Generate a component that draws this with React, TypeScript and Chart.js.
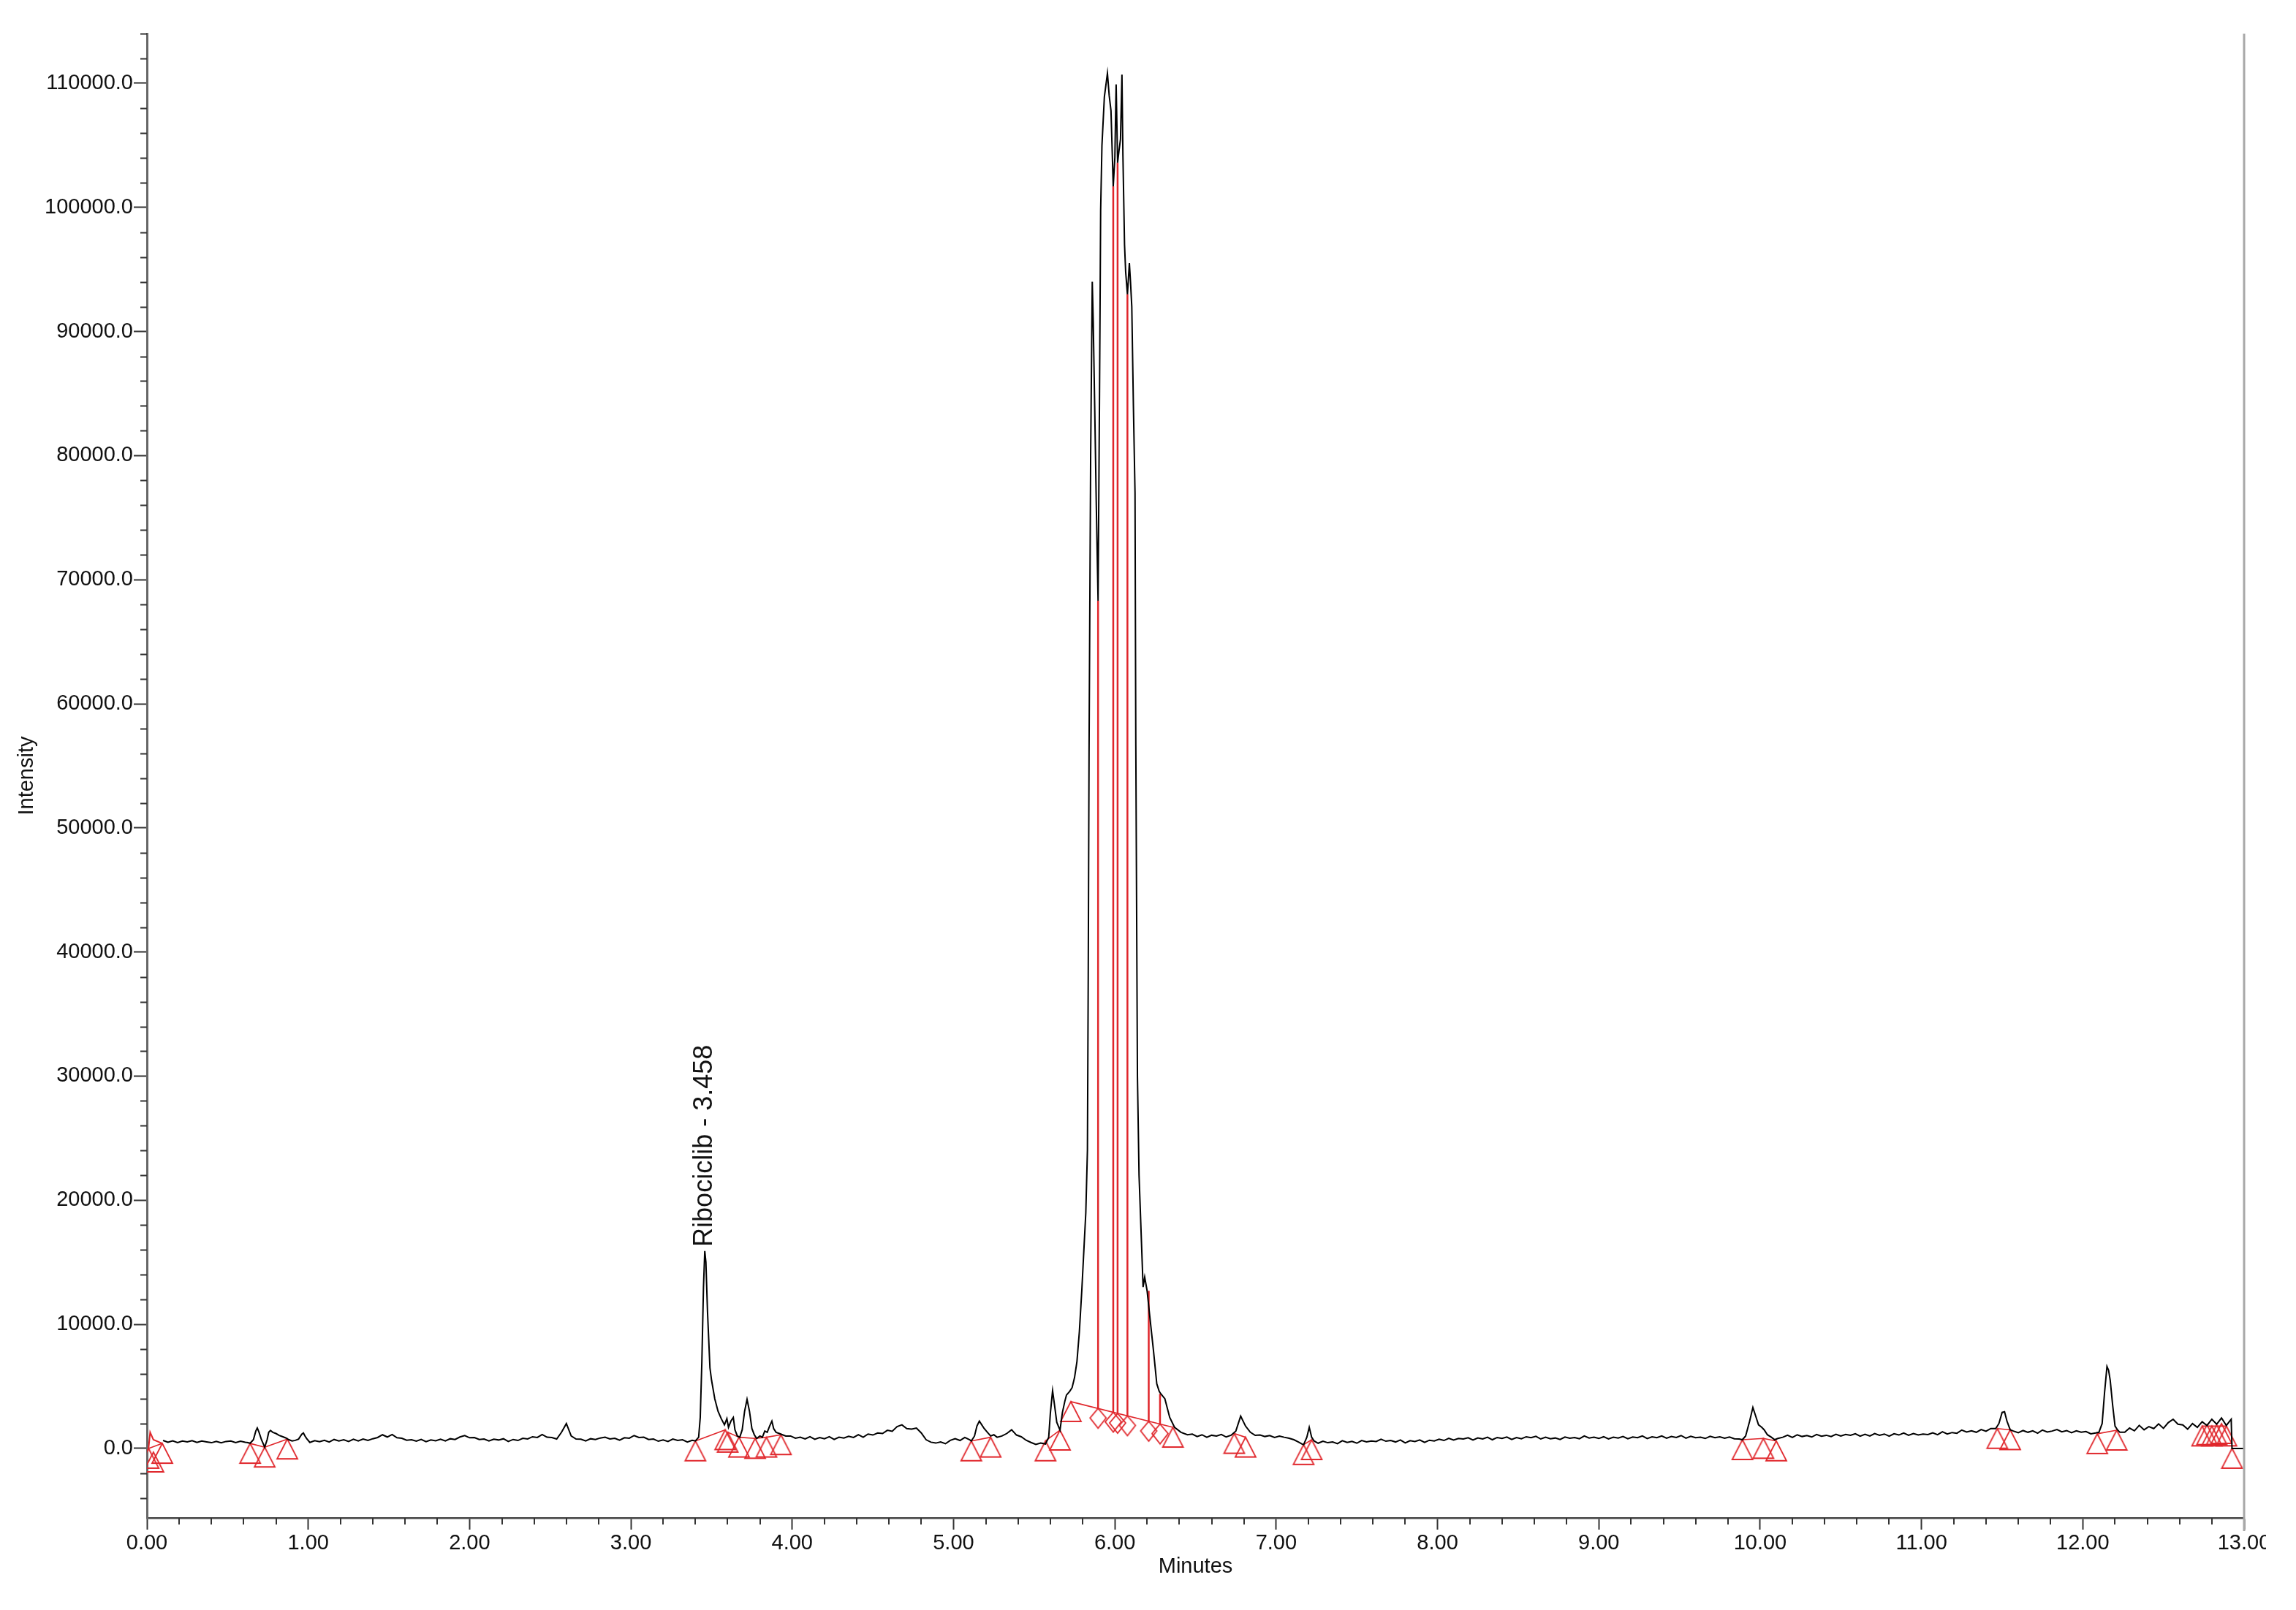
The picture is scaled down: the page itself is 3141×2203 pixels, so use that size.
import React, { useEffect, useRef } from "react";
import { Chart, registerables } from "chart.js";
Chart.register(...registerables);

// ---------- axis settings ----------
const X_MIN = 0;
const X_MAX = 13;
const Y_MIN = -5600;
const Y_MAX = 114000;
const X_TICKS = [0, 1, 2, 3, 4, 5, 6, 7, 8, 9, 10, 11, 12, 13];
const Y_TICKS = [0, 10000, 20000, 30000, 40000, 50000, 60000, 70000, 80000, 90000, 100000, 110000];
const X_MINOR = 0.2;
const Y_MINOR = 2000;

// ---------- chromatogram trace ----------
// baseline runs sampled every RUN_STEP minutes starting at the given time
const RUN_STEP = 0.03;
const runA_start = 0.1;
const runA = [640, 500, 610, 470, 590, 520, 620, 480, 600, 530, 460, 570, 450, 560, 600, 470, 580, 500];
const runB_start = 1.01;
const runB = [480, 620, 540, 660, 520, 720, 600, 700, 560, 740, 600, 760, 640, 780, 880, 1100, 920, 1120, 860, 820, 660, 700, 580, 720, 540, 680, 620, 740, 600, 780, 720, 920, 1040, 860];
const runC_start = 2.03;
const runC = [880, 720, 760, 600, 740, 680, 780, 560, 720, 640, 820, 760, 940, 880, 1120, 900, 880, 760, 1300, 2000, 1000, 760, 740, 600, 780, 720, 840, 900, 760, 820, 660, 860, 820, 1040, 880, 900, 720, 760, 580, 680, 560, 760, 640, 700, 520, 660];
const runD_start = 3.99;
const runD = [1000, 820, 900, 760, 940, 740, 880, 780, 940, 720, 900, 840, 980, 880, 1100, 900, 1160, 1080, 1240, 1200, 1460, 1380, 1760, 1900, 1600, 1560, 1640, 1250, 700, 500, 430, 520, 380, 650, 780, 640, 880];
const runE_start = 5.3;
const runE = [1000, 1200, 1500, 1080, 940, 660, 480, 320, 440, 360];
const runF_start = 6.48;
const runF = [1150, 960, 1100, 900, 1060, 1000, 1120, 920, 1060, 1400, 2600, 1800, 1300, 1050, 1080, 960, 1040, 880, 1000, 900, 820, 700, 500];
const runG_start = 7.26;
const runG = [420, 580, 460, 520, 380, 620, 480, 560, 420, 640, 520, 600, 560, 740, 580, 640, 520, 680, 440, 620, 560, 680, 480, 660, 600, 740, 640, 820, 680, 800, 760, 860, 680, 840, 760, 900, 700, 880, 800, 920, 720, 880, 780, 940, 860, 980, 760, 900, 780, 840, 720, 920, 820, 880, 780, 1000, 840, 900, 800, 940, 760, 900, 840, 960, 780, 920, 860, 1000, 800, 940, 860, 1000, 820, 960, 880, 1040, 820, 980, 860, 900, 800, 980, 860, 940, 820, 920, 780, 760];
const runH_start = 10.14;
const runH = [900, 1060, 880, 1100, 960, 1040, 920, 1120, 980, 1060, 960, 1140, 1000, 1120, 1060, 1180, 980, 1140, 1000, 1200, 1060, 1160, 980, 1180, 1080, 1240, 1060, 1200, 1080, 1160, 1120, 1260, 1100, 1340, 1160, 1280, 1220, 1480, 1320, 1420, 1300, 1520, 1380, 1600];
const runI_start = 11.6;
const runI = [1260, 1440, 1300, 1420, 1220, 1480, 1320, 1400, 1520, 1340, 1440, 1260, 1420, 1300, 1360, 1180, 1240];
const runJ_start = 12.26;
const runJ = [1300, 1640, 1420, 1860, 1500, 1760, 1600, 1980, 1620, 2080, 2350, 1950, 1900, 1550, 2000, 1700, 2150, 1850, 2350, 1950, 2450, 1850, 2350];

// peaks read point by point: [minutes, intensity]
const peak068 = [[0.62, 480], [0.64, 420], [0.66, 700], [0.675, 1400], [0.684, 1650], [0.695, 1300], [0.71, 700], [0.73, 100], [0.745, 700], [0.755, 1300], [0.766, 1450], [0.78, 1300], [0.8, 1200], [0.82, 1050], [0.84, 950], [0.86, 850], [0.88, 700], [0.9, 600], [0.92, 650], [0.94, 750], [0.96, 1150], [0.97, 1250], [0.98, 1000], [0.99, 800]];
const peakRibociclib = [[3.4, 600], [3.42, 900], [3.43, 2500], [3.44, 7000], [3.45, 13000], [3.458, 15900], [3.465, 15000], [3.475, 11000], [3.49, 6500], [3.5, 5500], [3.52, 4000], [3.54, 3000], [3.56, 2400], [3.58, 1900], [3.595, 2400], [3.605, 1700], [3.62, 2200], [3.635, 2500], [3.645, 1500], [3.66, 1000], [3.675, 900], [3.69, 1500], [3.705, 3000], [3.72, 3950], [3.735, 3000], [3.75, 1600], [3.765, 1100], [3.78, 800], [3.8, 1000], [3.815, 900], [3.83, 1400], [3.845, 1300], [3.86, 1800], [3.874, 2200], [3.885, 1600], [3.9, 1300], [3.92, 1200], [3.94, 1100], [3.96, 1000]];
const peak516 = [[5.1, 700], [5.11, 600], [5.13, 1000], [5.145, 1800], [5.16, 2200], [5.175, 1900], [5.19, 1600], [5.21, 1300], [5.23, 1000], [5.25, 1100], [5.27, 900]];
const peakMain = [[5.59, 900], [5.6, 2800], [5.614, 4650], [5.625, 3600], [5.64, 2100], [5.66, 1470], [5.675, 2900], [5.69, 3800], [5.7, 4300], [5.72, 4600], [5.735, 4900], [5.75, 5700], [5.765, 7000], [5.78, 9400], [5.795, 12700], [5.81, 16500], [5.82, 19000], [5.83, 24000], [5.835, 38000], [5.84, 56000], [5.85, 80000], [5.86, 94000], [5.866, 90800], [5.875, 84000], [5.885, 76000], [5.896, 68300], [5.905, 85000], [5.912, 99800], [5.92, 105000], [5.935, 108900], [5.954, 110800], [5.965, 109000], [5.976, 107800], [5.99, 101700], [6.0, 104000], [6.008, 109900], [6.017, 103600], [6.025, 104500], [6.035, 105500], [6.044, 110700], [6.05, 104200], [6.06, 97000], [6.067, 94800], [6.078, 93000], [6.09, 95500], [6.097, 94000], [6.105, 92000], [6.115, 84000], [6.125, 77000], [6.13, 56600], [6.14, 30000], [6.15, 22000], [6.165, 16600], [6.175, 13000], [6.185, 13800], [6.2, 12700], [6.216, 10700], [6.24, 7800], [6.26, 5200], [6.275, 4600], [6.285, 4400], [6.31, 4000], [6.34, 2500], [6.37, 1700], [6.41, 1300], [6.45, 1100]];
const peak721 = [[7.16, 350], [7.17, 300], [7.19, 900], [7.205, 1700], [7.22, 900], [7.235, 600]];
const peak996 = [[9.89, 700], [9.91, 1000], [9.935, 2200], [9.955, 3300], [9.97, 2700], [9.99, 1900], [10.01, 1700], [10.025, 1500], [10.045, 1100], [10.07, 900], [10.09, 700], [10.11, 800]];
const peak1151 = [[11.46, 1600], [11.48, 2000], [11.5, 2900], [11.515, 2950], [11.53, 2200], [11.55, 1500], [11.57, 1400]];
const peak1216 = [[12.1, 1300], [12.12, 2000], [12.135, 4500], [12.15, 6600], [12.16, 6300], [12.17, 5500], [12.185, 3500], [12.2, 1800], [12.215, 1500], [12.23, 1300]];
const traceEnd = [[12.925, 0], [13.0, 0]];
// start of the run, drawn in red by the software
const redStart = [[0.01, 0], [0.02, 1300], [0.04, 700], [0.095, 400]];

// ---------- integration marks ----------
const triangleTimes = [0.01, 0.04, 0.095, 0.64, 0.73, 0.87, 3.4, 3.585, 3.6, 3.67, 3.77, 3.84, 3.93, 5.11, 5.23, 5.57, 5.66, 5.727, 6.36, 6.74, 6.81, 7.17, 7.22, 9.89, 10.02, 10.1, 11.47, 11.55, 12.09, 12.21, 12.74, 12.77, 12.8, 12.83, 12.86, 12.89, 12.925];
const triangleValues = [0, -300, 400, 400, 100, 750, 600, 1500, 1300, 900, 800, 900, 1100, 600, 900, 600, 1470, 3770, 1700, 1200, 900, 300, 700, 700, 800, 600, 1600, 1500, 1180, 1470, 1800, 1900, 1800, 1900, 2000, 1800, 0];
const diamondTimes = [5.896, 5.99, 6.017, 6.078, 6.21, 6.28];
const diamondValues = [3220, 2910, 2820, 2620, 2180, 1960];
const dropTopValues = [68300, 101700, 103600, 93000, 12700, 4400];
// baseline segments: [t1, v1, t2, v2]
const baselineSegments = [
  [0.01, 0, 0.095, 400],
  [0.64, 400, 0.73, 100],
  [0.73, 100, 0.87, 750],
  [3.4, 600, 3.585, 1500],
  [3.6, 1300, 3.67, 900],
  [3.67, 900, 3.77, 800],
  [3.77, 800, 3.84, 900],
  [3.84, 900, 3.93, 1100],
  [5.11, 600, 5.23, 900],
  [5.57, 600, 5.66, 1470],
  [5.727, 3770, 6.36, 1700],
  [6.74, 1200, 6.81, 900],
  [7.17, 300, 7.22, 700],
  [9.89, 700, 10.02, 800],
  [10.02, 800, 10.1, 600],
  [11.47, 1600, 11.55, 1500],
  [12.09, 1180, 12.21, 1470],
  [12.74, 1800, 12.89, 1800],
];

// ---------- peak annotation ----------
const peakLabelTexts = ["Ribociclib - 3.458"];
const peakLabelTimes = [3.458];
const peakLabelValues = [15900];

const FONT = "'Liberation Sans', Arial, Helvetica, sans-serif";
const RED = "#e0262b";

function runPoints(start: number, values: number[]) {
  return values.map((v, i) => ({ x: Math.round((start + i * RUN_STEP) * 1000) / 1000, y: v }));
}
function pairPoints(arr: number[][]) {
  return arr.map(([x, y]) => ({ x, y }));
}

function makeTriangle(): HTMLCanvasElement {
  const c = document.createElement("canvas");
  c.width = 32;
  c.height = 60;
  const g = c.getContext("2d")!;
  g.strokeStyle = RED;
  g.lineWidth = 1.8;
  g.beginPath();
  g.moveTo(16, 30);
  g.lineTo(30, 57);
  g.lineTo(2, 57);
  g.closePath();
  g.stroke();
  return c;
}
function makeDiamond(): HTMLCanvasElement {
  const c = document.createElement("canvas");
  c.width = 28;
  c.height = 58;
  const g = c.getContext("2d")!;
  g.strokeStyle = RED;
  g.lineWidth = 1.8;
  g.beginPath();
  g.moveTo(14, 29);
  g.lineTo(25, 42);
  g.lineTo(14, 56);
  g.lineTo(3, 42);
  g.closePath();
  g.stroke();
  return c;
}

const minorTicksPlugin = {
  id: "minorTicks",
  afterDraw(chart: any) {
    const { ctx, chartArea, scales } = chart;
    const xs = scales.x;
    const ys = scales.y;
    ctx.save();
    ctx.strokeStyle = "#333";
    ctx.lineWidth = 2;
    ctx.beginPath();
    for (let k = Math.ceil(Y_MIN / Y_MINOR); k * Y_MINOR <= Y_MAX; k++) {
      const v = k * Y_MINOR;
      if (Y_TICKS.includes(v)) continue;
      const py = Math.round(ys.getPixelForValue(v)) + 0.5;
      ctx.moveTo(chartArea.left - 9, py);
      ctx.lineTo(chartArea.left, py);
    }
    for (let k = 1; k < Math.round((X_MAX - X_MIN) / X_MINOR); k++) {
      if (k % 5 === 0) continue;
      const px = Math.round(xs.getPixelForValue(X_MIN + k * X_MINOR));
      ctx.moveTo(px, chartArea.bottom);
      ctx.lineTo(px, chartArea.bottom + 9);
    }
    ctx.stroke();
    // right frame line
    ctx.strokeStyle = "#a8a8a8";
    ctx.lineWidth = 3;
    ctx.beginPath();
    const rx = xs.getPixelForValue(X_MAX);
    ctx.moveTo(rx, chartArea.top);
    ctx.lineTo(rx, chartArea.bottom + 18);
    ctx.stroke();
    // peak labels
    ctx.fillStyle = "#111";
    ctx.font = `36px ${FONT}`;
    ctx.textAlign = "left";
    ctx.textBaseline = "middle";
    peakLabelTexts.forEach((txt, i) => {
      const px = xs.getPixelForValue(peakLabelTimes[i]);
      const py = ys.getPixelForValue(peakLabelValues[i]);
      ctx.save();
      ctx.translate(px, py - 6);
      ctx.rotate(-Math.PI / 2);
      ctx.fillText(txt, 0, 0);
      ctx.restore();
    });
    ctx.restore();
  },
};

export default function App() {
  const ref = useRef<HTMLCanvasElement>(null);
  useEffect(() => {
    document.body.style.margin = "0";
    document.body.style.background = "#fff";
    const trace = [
      ...runPoints(runA_start, runA),
      ...pairPoints(peak068),
      ...runPoints(runB_start, runB),
      ...runPoints(runC_start, runC),
      ...pairPoints(peakRibociclib),
      ...runPoints(runD_start, runD),
      ...pairPoints(peak516),
      ...runPoints(runE_start, runE),
      ...pairPoints(peakMain),
      ...runPoints(runF_start, runF),
      ...pairPoints(peak721),
      ...runPoints(runG_start, runG),
      ...pairPoints(peak996),
      ...runPoints(runH_start, runH),
      ...pairPoints(peak1151),
      ...runPoints(runI_start, runI),
      ...pairPoints(peak1216),
      ...runPoints(runJ_start, runJ),
      ...pairPoints(traceEnd),
    ].sort((a, b) => a.x - b.x);

    const baseline: any[] = [];
    baselineSegments.forEach(([t1, v1, t2, v2]) => {
      baseline.push({ x: t1, y: v1 }, { x: t2, y: v2 }, { x: t2, y: null });
    });
    const drops: any[] = [];
    diamondTimes.forEach((t, i) => {
      drops.push({ x: t, y: diamondValues[i] }, { x: t, y: dropTopValues[i] }, { x: t, y: null });
    });
    const triangles = triangleTimes.map((t, i) => ({ x: t, y: triangleValues[i] }));
    const diamonds = diamondTimes.map((t, i) => ({ x: t, y: diamondValues[i] }));

    const tickFont = { family: FONT, size: 29 };
    const chart = new Chart(ref.current!, {
      type: "line",
      data: {
        datasets: [
          { data: trace, borderColor: "#000", borderWidth: 2, pointRadius: 0, tension: 0 },
          { data: pairPoints(redStart), borderColor: RED, borderWidth: 2, pointRadius: 0 },
          { data: drops, borderColor: RED, borderWidth: 2.5, pointRadius: 0, spanGaps: false },
          { data: baseline, borderColor: RED, borderWidth: 1.6, pointRadius: 0, spanGaps: false },
          { data: triangles, showLine: false, pointStyle: makeTriangle() as any, pointRadius: 5 },
          { data: diamonds, showLine: false, pointStyle: makeDiamond() as any, pointRadius: 5 },
        ] as any,
      },
      options: {
        responsive: false,
        devicePixelRatio: 1,
        animation: false,
        events: [],
        layout: { padding: { left: 0, top: 46, right: 71, bottom: 0 } },
        plugins: { legend: { display: false }, tooltip: { enabled: false } },
        scales: {
          x: {
            type: "linear",
            min: X_MIN,
            max: X_MAX,
            afterFit: (s: any) => {
              s.height = 126;
            },
            afterBuildTicks: (s: any) => {
              s.ticks = X_TICKS.map((v) => ({ value: v }));
            },
            ticks: {
              maxRotation: 0,
              autoSkip: false,
              padding: 2,
              color: "#111",
              font: tickFont,
              callback: (v: any) => Number(v).toFixed(2),
            },
            grid: { drawOnChartArea: false, drawTicks: true, tickLength: 16, tickColor: "#333", tickWidth: 2 },
            border: { display: true, color: "#444", width: 2.5 },
            title: { display: true, text: "Minutes", color: "#111", font: tickFont, padding: { top: 0, bottom: 42 } },
          },
          y: {
            type: "linear",
            min: Y_MIN,
            max: Y_MAX,
            afterFit: (s: any) => {
              s.width = 201;
            },
            afterBuildTicks: (s: any) => {
              s.ticks = Y_TICKS.map((v) => ({ value: v }));
            },
            ticks: {
              autoSkip: false,
              padding: 1,
              color: "#111",
              font: tickFont,
              callback: (v: any) => Number(v).toFixed(1),
            },
            grid: { drawOnChartArea: false, drawTicks: true, tickLength: 18, tickColor: "#333", tickWidth: 2 },
            border: { display: true, color: "#666", width: 3 },
            title: { display: true, text: "Intensity", color: "#111", font: tickFont, padding: { top: 20, bottom: 0 } },
          },
        },
      },
      plugins: [minorTicksPlugin],
    } as any);
    return () => chart.destroy();
  }, []);
  return (
    <div style={{ width: 3100, height: 2203, overflow: "hidden", background: "#fff" }}>
      <canvas ref={ref} width={3141} height={2203} style={{ display: "block", width: 3141, height: 2203 }} />
    </div>
  );
}
